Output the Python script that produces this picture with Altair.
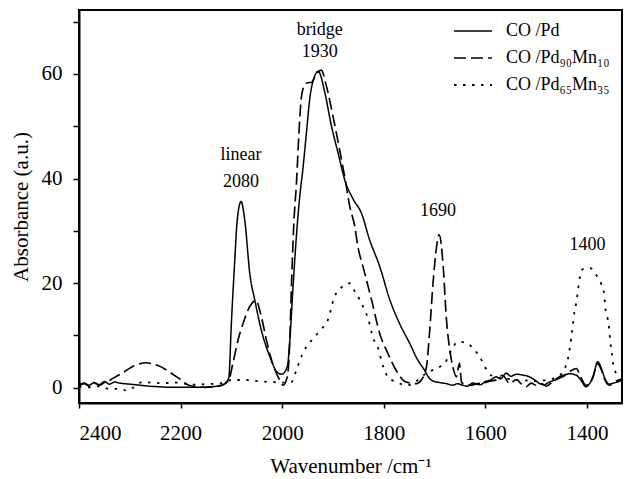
import altair as alt
import pandas as pd

# ---- data ----
wn_pd = [2400, 2390, 2380, 2370, 2360, 2350, 2340, 2330, 2320, 2300, 2280, 2260, 2240, 2220, 2200,
         2180, 2160, 2140, 2120, 2110, 2105, 2100, 2093, 2089, 2081, 2073, 2064, 2054, 2041, 2024,
         2011, 2001, 1990, 1985, 1979, 1972, 1966, 1959, 1952, 1946, 1936, 1929, 1916, 1903, 1890,
         1877, 1860, 1844, 1828, 1808, 1788, 1769, 1749, 1733, 1720, 1710, 1700, 1690, 1677, 1664,
         1655, 1645, 1635, 1625, 1610, 1600, 1590, 1579, 1570, 1559, 1550, 1539, 1525, 1513, 1503,
         1493, 1484, 1474, 1460, 1448, 1435, 1421, 1412, 1402, 1395, 1388, 1379, 1372, 1366, 1356,
         1348, 1340, 1331]
abs_pd = [0.6, 0.9, 0.5, 1.0, 0.6, 1.2, 0.7, 1.1, 0.9, 0.7, 0.5, 0.3, 0.2, 0.1, 0.1,
          0.1, 0.1, 0.2, 0.5, 1.1, 2.0, 12.4, 25.0, 31.5, 35.6, 31.5, 22.0, 16.8, 11.0, 5.9,
          3.1, 2.6, 4.0, 9.0, 18.7, 29.0, 36.0, 42.0, 49.0, 55.0, 59.6, 60.5, 56.4, 50.0, 44.9,
          39.8, 36.0, 33.4, 28.3, 23.2, 16.8, 12.3, 8.5, 5.3, 3.4, 1.8, 1.2, 1.0, 0.8, 0.5,
          0.8, 0.5, 0.3, 0.9, 0.6, 1.2, 1.5, 2.1, 1.7, 2.8, 2.2, 2.6, 2.4, 2.1, 1.5,
          0.8, 0.6, 1.1, 1.6, 2.1, 2.7, 2.4, 1.5, 0.2, 0.8, 2.0, 5.0, 3.8, 2.1, 0.7,
          0.9, 1.1, 1.5]

wn_90 = [2400, 2390, 2380, 2370, 2360, 2350, 2340, 2330, 2315, 2296, 2283, 2269, 2256, 2243, 2223,
         2203, 2184, 2165, 2151, 2135, 2118, 2105, 2097, 2087, 2077, 2064, 2052, 2041, 2031, 2021,
         2008, 1998, 1990, 1985, 1982, 1977, 1972, 1967, 1962, 1956, 1950, 1942, 1933, 1923, 1913,
         1900, 1887, 1877, 1867, 1857, 1851, 1841, 1824, 1808, 1792, 1776, 1756, 1736, 1726, 1716,
         1710, 1703, 1696, 1691, 1683, 1677, 1670, 1664, 1657, 1651, 1647, 1640, 1631, 1615, 1600,
         1590, 1579, 1566, 1552, 1539, 1530, 1520, 1510, 1500, 1490, 1480, 1467, 1454, 1444, 1434,
         1421, 1412, 1402, 1395, 1388, 1379, 1372, 1366, 1356, 1348, 1340, 1331]
abs_90 = [0.4, 0.8, 0.3, 0.9, 0.5, 1.0, 1.4, 2.0, 2.8, 4.0, 4.5, 4.8, 4.6, 4.2, 3.1,
          1.8, 0.5, 0.2, 0.1, 0.2, 0.5, 1.5, 4.7, 9.1, 12.3, 15.5, 16.7, 13.6, 9.1, 5.3,
          2.1, 0.5, 2.1, 9.1, 18.7, 31.5, 39.0, 48.7, 55.7, 57.8, 58.3, 58.4, 59.9, 60.7, 57.7,
          51.9, 45.5, 40.4, 34.7, 30.8, 27.0, 23.2, 16.8, 10.4, 6.6, 3.4, 1.1, 0.8, 1.5, 4.0,
          10.4, 20.0, 27.0, 29.3, 23.2, 13.6, 7.2, 4.0, 2.1, 4.7, 1.1, 0.6, 0.5, 0.8, 1.0,
          1.3, 1.5, 2.4, 0.8, 1.6, 0.8, 0.2, 0.9, 0.5, 0.8, 0.3, 1.2, 2.1, 2.5, 3.1,
          3.7, 2.0, 0.5, 0.8, 2.2, 4.6, 3.5, 1.8, 0.5, 0.9, 1.4, 1.7]

wn_65 = [2400, 2380, 2360, 2340, 2320, 2306, 2290, 2276, 2241, 2203, 2180, 2150, 2120, 2100, 2072,
         2040, 2018, 2000, 1982, 1972, 1965, 1952, 1940, 1925, 1910, 1897, 1883, 1868, 1857, 1847,
         1838, 1831, 1821, 1811, 1805, 1792, 1775, 1756, 1740, 1730, 1716, 1697, 1680, 1667, 1654,
         1638, 1621, 1611, 1602, 1593, 1580, 1560, 1540, 1520, 1500, 1480, 1460, 1445, 1438, 1434,
         1431, 1428, 1425, 1421, 1418, 1415, 1408, 1394, 1382, 1372, 1366, 1364, 1359, 1356, 1354,
         1351, 1348, 1340, 1333]
abs_65 = [0.2, 0.1, 0.3, -0.2, -0.2, -0.5, 0.2, 1.1, 0.9, 1.0, 0.6, 0.7, 0.9, 1.5, 1.5,
          1.2, 1.1, 1.0, 1.1, 3.4, 5.3, 7.9, 9.3, 11.0, 13.0, 17.4, 19.2, 20.0, 18.4, 16.8,
          14.9, 13.3, 9.5, 7.5, 5.3, 2.1, 1.1, 0.5, 0.9, 1.8, 2.8, 3.7, 4.7, 7.2, 8.8,
          8.6, 7.2, 5.9, 4.2, 2.8, 2.0, 1.8, 1.5, 1.4, 1.3, 1.5, 2.0, 3.5, 5.3, 7.5,
          9.5, 11.7, 14.3, 16.3, 18.4, 20.6, 22.7, 22.9, 21.6, 19.9, 17.8, 15.4, 13.1, 11.0, 8.8,
          6.6, 4.3, 2.5, 2.1]

series_names = ["CO /Pd", "CO /Pd\u2089\u2080Mn\u2081\u2080", "CO /Pd\u2086\u2085Mn\u2083\u2085"]

ann_wn = [2081, 2081, 1926, 1926, 1693, 1399]
ann_val = [44.5, 39.3, 68.4, 64.2, 33.7, 27.3]
ann_text = ["linear", "2080", "bridge", "1930", "1690", "1400"]

x_ticks = [2400, 2200, 2000, 1800, 1600, 1400]
y_ticks = [0, 10, 20, 30, 40, 50, 60, 70]
y_labels = ["0", "20", "40", "60"]

x_range = [1331, 2400]
y_range = [-2.9, 72.2]

# ---- build tables ----
rows = []
for name, wns, vals in zip(series_names, [wn_pd, wn_90, wn_65], [abs_pd, abs_90, abs_65]):
    for w, v in zip(wns, vals):
        rows.append({"wn": w, "absorbance": v, "series": name})
df = pd.DataFrame(rows)
ann = pd.DataFrame({"wn": ann_wn, "absorbance": ann_val, "text": ann_text})

FONT = "Liberation Serif"
xscale = alt.Scale(domain=x_range, reverse=True, nice=False, zero=False)
yscale = alt.Scale(domain=y_range, nice=False, zero=False)

y_label_expr = "indexof(" + str(y_labels) + ", datum.label) >= 0 ? datum.label : ''"

legend = alt.Legend(
    title=None, orient="none", legendX=385, legendY=12,
    symbolType="M-3,0H3", symbolSize=160, symbolStrokeColor="black",
    labelFont=FONT, labelFontSize=18, labelColor="black", labelOffset=24,
    rowPadding=9, padding=0,
)

lines = alt.Chart(df).mark_line(color="black", interpolate="monotone").encode(
    x=alt.X("wn:Q", scale=xscale,
            axis=alt.Axis(values=x_ticks, format="d", orient="bottom", grid=False,
                          title="Wavenumber /cm\u207b\u00b9",
                          tickSize=5, tickWidth=1.5, tickColor="black",
                          domainColor="black", domainWidth=2.2,
                          labelFont=FONT, labelFontSize=21, labelColor="black", labelPadding=14,
                          titleFont=FONT, titleFontSize=21, titleFontWeight="normal",
                          titleColor="black", titlePadding=12)),
    y=alt.Y("absorbance:Q", scale=yscale,
            axis=alt.Axis(values=y_ticks, format="d", orient="left", grid=False,
                          labelExpr=y_label_expr,
                          title="Absorbance (a.u.)",
                          tickSize=6, tickWidth=1.5, tickColor="black",
                          domainColor="black", domainWidth=2,
                          labelFont=FONT, labelFontSize=21, labelColor="black", labelPadding=11,
                          titleFont=FONT, titleFontSize=21, titleFontWeight="normal",
                          titleColor="black", titlePadding=10)),
    strokeDash=alt.StrokeDash("series:N",
                              scale=alt.Scale(domain=series_names, range=[[1, 0], [12, 5], [2.5, 6.5]]),
                              legend=legend),
    strokeWidth=alt.StrokeWidth("series:N",
                                scale=alt.Scale(domain=series_names, range=[1.5, 1.8, 3.0]),
                                legend=legend),
)

texts = alt.Chart(ann).mark_text(font=FONT, fontSize=18, color="black", align="center",
                                 baseline="middle").encode(
    x=alt.X("wn:Q", scale=xscale),
    y=alt.Y("absorbance:Q", scale=yscale),
    text="text:N",
)

chart = alt.layer(lines, texts).properties(
    width=543, height=393,
    padding={"left": 79, "top": 10, "right": 2, "bottom": 76},
    autosize=alt.AutoSizeParams(type="none"),
).configure_view(stroke="black", strokeWidth=2)

chart.save("out.html", embed_options={"renderer": "svg", "actions": False})
